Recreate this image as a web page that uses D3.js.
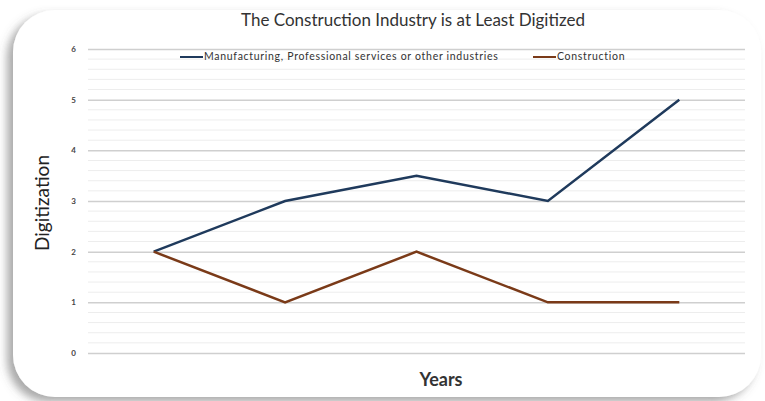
<!DOCTYPE html>
<html>
<head>
<meta charset="utf-8">
<script src="https://cdn.jsdelivr.net/npm/d3@7"></script>
<style>
  body { margin: 0; background: #fff; }
  svg { display: block; font-family: Lato, "Open Sans", sans-serif; }
</style>
</head>
<body>
<svg id="chart" width="765" height="401"></svg>
<script>
// Data
const years = ["Y1", "Y2", "Y3", "Y4", "Y5"];
const manufacturing = [2, 3, 3.5, 3, 5];
const construction = [2, 1, 2, 1, 1];
const yTicks = [0, 1, 2, 3, 4, 5, 6];

const series = [
    { name: "Manufacturing, Professional services or other industries", values: manufacturing, color: "#1f3a5c" },
    { name: "Construction", values: construction, color: "#7a3a18" }
];

const margin = { top: 49, right: 20, bottom: 48, left: 88 };
const plotRight = 745;

const svg = d3.select("#chart");

// Card background with a soft shadow to the lower left
const defs = svg.append("defs");
const f = defs.append("filter").attr("id", "shadow")
    .attr("x", "-5%").attr("y", "-5%").attr("width", "110%").attr("height", "115%");
f.append("feDropShadow")
    .attr("dx", -6).attr("dy", 5)
    .attr("stdDeviation", 4)
    .attr("flood-color", "#555")
    .attr("flood-opacity", 0.5);

svg.append("rect")
    .attr("x", 13).attr("y", 10)
    .attr("width", 748).attr("height", 387)
    .attr("rx", 42).attr("ry", 42)
    .attr("fill", "#fff")
    .attr("filter", "url(#shadow)");

// Scales
const x = d3.scalePoint()
    .domain(years)
    .range([margin.left, plotRight])
    .padding(0.5);

const y = d3.scaleLinear()
    .domain([0, 6])
    .range([353, margin.top]);

// Minor gridlines
const minor = d3.range(0, 6.001, 0.2).filter(v => Math.abs(v - Math.round(v)) > 0.01);
svg.append("g").selectAll("line")
    .data(minor)
    .enter()
    .append("line")
    .attr("x1", margin.left).attr("x2", plotRight)
    .attr("y1", d => y(d)).attr("y2", d => y(d))
    .attr("stroke", "#ededed")
    .attr("stroke-width", 1);

// Major gridlines + tick labels
const yAxis = d3.axisLeft(y)
    .tickValues(yTicks)
    .tickSize(-(plotRight - margin.left))
    .tickPadding(12)
    .tickFormat(d3.format("d"));

const gy = svg.append("g")
    .attr("transform", `translate(${margin.left},0)`)
    .call(yAxis);
gy.select(".domain").remove();
gy.selectAll(".tick line")
    .attr("stroke", "#cfcfcf")
    .attr("stroke-width", 1.5);
gy.selectAll(".tick text")
    .attr("fill", "#444")
    .style("font-size", "8px")
    .style("font-weight", "bold")
    .style("font-family", "Lato, sans-serif");

// Lines
const line = d3.line()
    .x((d, i) => x(years[i]))
    .y(d => y(d));

svg.append("g").selectAll("path")
    .data(series)
    .enter()
    .append("path")
    .attr("d", d => line(d.values))
    .attr("fill", "none")
    .attr("stroke", d => d.color)
    .attr("stroke-width", 2.5)
    .attr("stroke-linejoin", "miter");

// Title
svg.append("text")
    .attr("x", 413).attr("y", 26)
    .attr("text-anchor", "middle")
    .attr("fill", "#333")
    .style("font-size", "17px")
    .text("The Construction Industry is at Least Digitized");

// Legend
const legendPos = [180, 533];
const legend = svg.append("g").selectAll("g")
    .data(series)
    .enter()
    .append("g")
    .attr("transform", (d, i) => `translate(${legendPos[i]},57)`);
legend.append("line")
    .attr("x1", 0).attr("x2", 23)
    .attr("stroke", d => d.color)
    .attr("stroke-width", 2);
legend.append("text")
    .attr("x", 24).attr("y", 0)
    .attr("dominant-baseline", "middle")
    .attr("fill", "#333")
    .style("font-size", "10.5px")
    .style("letter-spacing", "0.7px")
    .text(d => d.name);

// Axis titles
svg.append("text")
    .attr("transform", "translate(49,203) rotate(-90)")
    .attr("text-anchor", "middle")
    .attr("fill", "#222")
    .style("font-size", "19px")
    .text("Digitization");

svg.append("text")
    .attr("x", 441).attr("y", 386)
    .attr("text-anchor", "middle")
    .attr("fill", "#333")
    .style("font-size", "18px")
    .style("font-weight", "bold")
    .text("Years");
</script>
</body>
</html>
